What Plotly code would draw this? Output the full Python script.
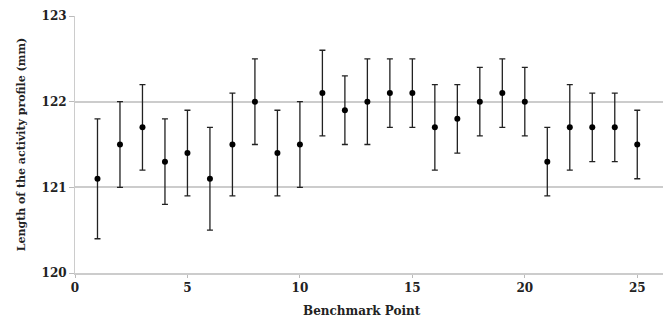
import plotly.graph_objects as go

points = list(range(1, 26))
lengths = [121.1, 121.5, 121.7, 121.3, 121.4, 121.1, 121.5, 122.0, 121.4, 121.5,
           122.1, 121.9, 122.0, 122.1, 122.1, 121.7, 121.8, 122.0, 122.1, 122.0,
           121.3, 121.7, 121.7, 121.7, 121.5]
errors = [0.7, 0.5, 0.5, 0.5, 0.5, 0.6, 0.6, 0.5, 0.5, 0.5,
          0.5, 0.4, 0.5, 0.4, 0.4, 0.5, 0.4, 0.4, 0.4, 0.4,
          0.4, 0.5, 0.4, 0.4, 0.4]

font = "DejaVu Serif"

fig = go.Figure(go.Scatter(
    x=points, y=lengths, mode="markers",
    marker=dict(color="black", size=6),
    error_y=dict(type="data", array=errors, visible=True, color="#222222", thickness=1.3, width=3),
    showlegend=False,
))

# page body has an 8px margin; figure sized to fill the remaining window
fig.update_layout(
    width=663, height=312,
    margin=dict(l=67, r=0, t=8, b=47),
    plot_bgcolor="white", paper_bgcolor="white",
    font=dict(family=font, color="#222222"),
    xaxis=dict(range=[0, 26.5], tickvals=[0, 5, 10, 15, 20, 25], showgrid=False,
               zeroline=False, showline=True, linecolor="#cccccc", linewidth=2,
               ticks="outside", ticklen=3, tickcolor="#bbbbbb", tickwidth=1,
               tickfont=dict(family=font, size=12, weight="bold")),
    yaxis=dict(range=[120, 123], tickvals=[120, 121, 122, 123], showgrid=True,
               gridcolor="#cccccc", gridwidth=1.5, zeroline=False, showline=True,
               linecolor="#cccccc", linewidth=1,
               ticks="outside", ticklen=5, tickcolor="#bbbbbb", tickwidth=1,
               tickfont=dict(family=font, size=12, weight="bold"),
               title=dict(text="<b>Length of the activity profile (mm)</b>", font=dict(family=font, size=11), standoff=13)),
    annotations=[dict(text="<b>Benchmark Point</b>", xref="paper", yref="paper",
                      x=0.4815, y=-0.148, xanchor="center", yanchor="middle",
                      showarrow=False, font=dict(family=font, size=12, color="#222222"))],
)

fig.write_html("out.html")
